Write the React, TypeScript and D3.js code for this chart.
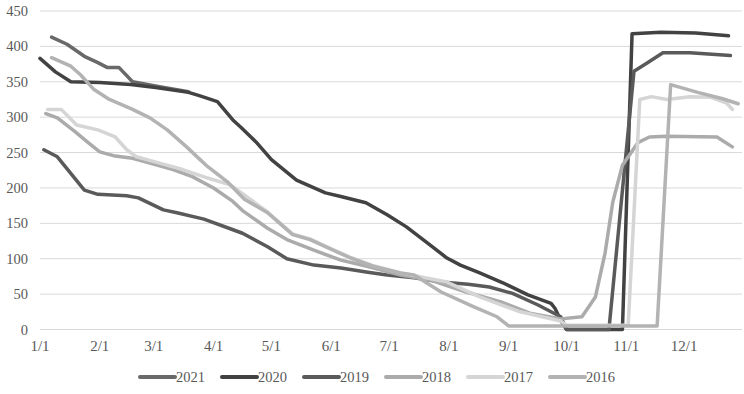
import * as d3 from "d3";

const W = 744;
const H = 394;

const years = ["2021", "2020", "2019", "2018", "2017", "2016"];
const colors = ["#696969", "#424242", "#5a5a5a", "#ababab", "#d5d5d5", "#b3b3b3"];

const tickLabels = ["1/1", "2/1", "3/1", "4/1", "5/1", "6/1", "7/1", "8/1", "9/1", "10/1", "11/1", "12/1"];
const tickDays = [0, 31, 59, 90, 120, 151, 181, 212, 243, 273, 304, 334];
const yTicks = [0, 50, 100, 150, 200, 250, 300, 350, 400, 450];

// [day of year, value]
const s2021: [number, number][] = [
  [6, 413], [14, 403], [23, 386], [30, 377], [35, 370], [41, 370], [48, 350], [62, 343], [77, 336],
];
const s2020: [number, number][] = [
  [0, 383], [8, 364], [16, 350], [31, 349], [47, 346], [60, 342], [77, 335], [83, 330], [92, 322],
  [100, 296], [104, 286], [112, 265], [120, 240], [133, 211], [148, 193], [156, 188], [169, 179],
  [180, 162], [190, 145], [201, 122], [211, 101], [218, 91], [228, 80], [240, 66], [253, 49],
  [265, 37], [267, 30], [270, 13], [273, 0], [302, 0], [307, 418], [322, 420], [340, 419], [357, 415],
];
const s2019: [number, number][] = [
  [2, 254], [9, 244], [23, 197], [30, 191], [45, 189], [51, 186], [64, 169], [71, 165], [85, 156],
  [99, 142], [105, 136], [118, 117], [128, 100], [142, 91], [156, 87], [170, 81], [180, 77],
  [194, 73], [208, 67], [222, 64], [233, 60], [245, 51], [258, 35], [270, 18], [273, 0], [295, 0],
  [308, 365], [315, 377], [323, 391], [337, 391], [358, 387],
];
const s2018: [number, number][] = [
  [3, 305], [9, 299], [18, 280], [25, 264], [31, 251], [39, 245], [48, 242], [57, 235], [69, 226],
  [79, 216], [90, 200], [100, 181], [105, 168], [118, 143], [128, 127], [142, 112], [156, 98],
  [170, 89], [187, 77], [202, 70], [221, 53], [239, 39], [254, 23], [270, 15], [281, 18],
  [288, 46], [293, 108], [297, 180], [302, 232], [310, 264], [316, 272], [325, 273], [351, 272], [359, 258],
];
const s2017: [number, number][] = [
  [4, 311], [11, 311], [19, 289], [30, 282], [39, 272], [45, 254], [50, 244], [62, 235], [74, 226],
  [87, 214], [99, 204], [107, 188], [118, 166], [131, 135], [140, 128], [152, 113], [161, 102],
  [173, 90], [187, 80], [211, 67], [228, 46], [249, 25], [270, 12], [273, 6], [305, 6], [311, 325],
  [317, 329], [325, 325], [337, 329], [348, 328], [356, 320], [359, 311],
];
const s2016: [number, number][] = [
  [6, 384], [16, 372], [21, 360], [28, 339], [36, 325], [48, 311], [57, 299], [66, 282], [76, 258],
  [83, 240], [87, 230], [97, 209], [106, 184], [118, 165], [131, 134], [140, 127], [152, 112],
  [161, 101], [173, 89], [187, 80], [194, 77], [208, 53], [225, 32], [237, 18], [243, 5],
  [320, 5], [327, 346], [341, 335], [354, 326], [362, 319],
];

const series = [s2021, s2020, s2019, s2018, s2017, s2016];

export default function App() {
  const x = d3.scaleLinear().domain([0, 364]).range([40, 742]);
  const y = d3.scaleLinear().domain([0, 450]).range([329.5, 11]);

  const line = d3
    .line<[number, number]>()
    .x((d) => x(d[0]))
    .y((d) => y(d[1]));

  const font = "'Liberation Serif', 'DejaVu Serif', serif";

  return (
    <svg
      width={W}
      height={H}
      style={{ position: "absolute", left: 0, top: 0, background: "#fff" }}
      fontFamily={font}
    >
      {/* grid + y labels */}
      {yTicks.map((t) => (
        <g key={t}>
          <line x1={40} x2={742} y1={y(t)} y2={y(t)} stroke="#d9d9d9" strokeWidth={1} />
          <text x={28} y={y(t)} dy="0.35em" textAnchor="end" fontSize={14.5} fill="#595959">
            {t}
          </text>
        </g>
      ))}

      {/* x labels */}
      {tickLabels.map((lab, i) => (
        <text key={lab} x={x(tickDays[i])} y={351} textAnchor="middle" fontSize={15} fill="#595959">
          {lab}
        </text>
      ))}

      {/* lines */}
      {series.map((s, i) => (
        <path
          key={years[i]}
          d={line(s) ?? ""}
          fill="none"
          stroke={colors[i]}
          strokeWidth={3.5}
          strokeLinejoin="round"
          strokeLinecap="round"
        />
      ))}

      {/* legend */}
      {years.map((yr, i) => {
        const lx = 140 + i * 82;
        return (
          <g key={yr}>
            <line x1={lx} x2={lx + 35} y1={377} y2={377} stroke={colors[i]} strokeWidth={4} strokeLinecap="round" />
            <text x={lx + 36} y={377} dy="0.35em" fontSize={14.5} fill="#595959">
              {yr}
            </text>
          </g>
        );
      })}
    </svg>
  );
}
